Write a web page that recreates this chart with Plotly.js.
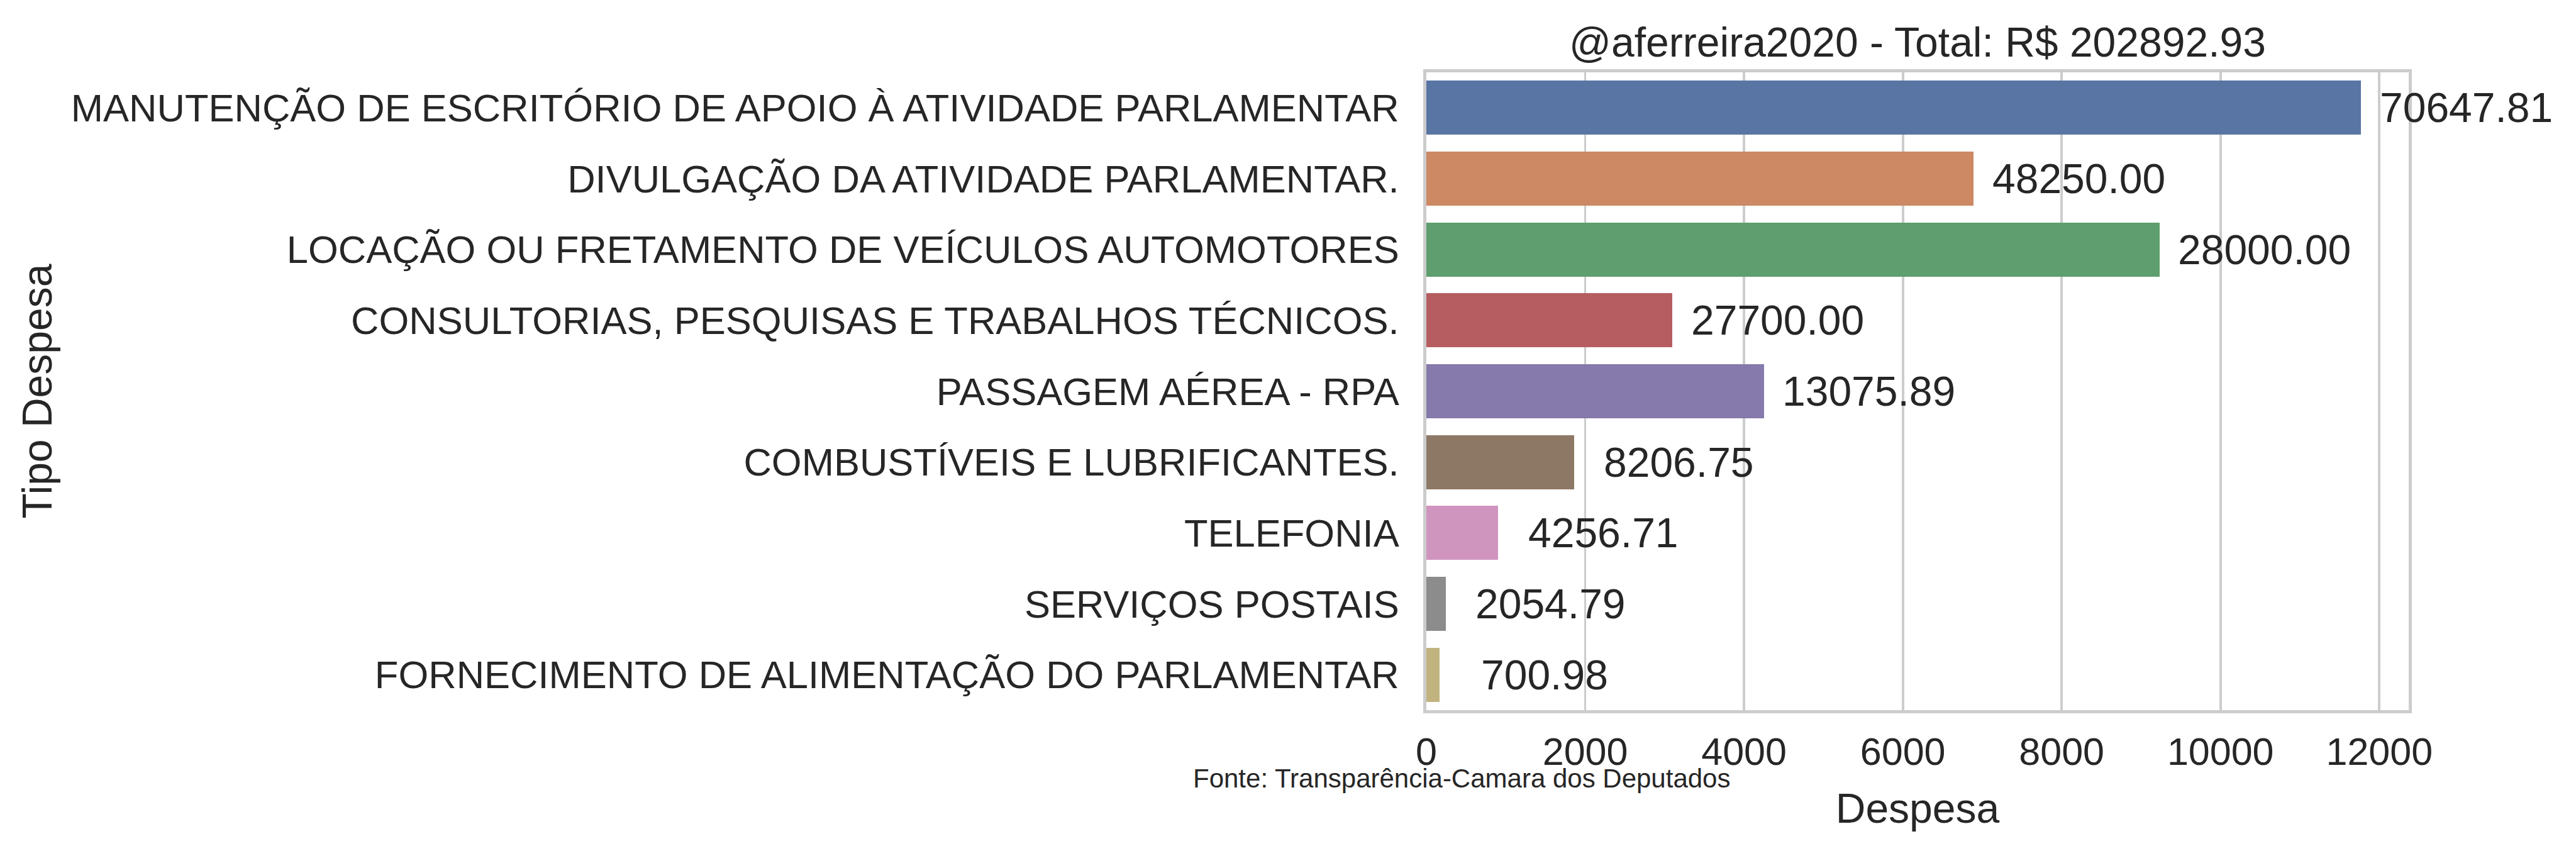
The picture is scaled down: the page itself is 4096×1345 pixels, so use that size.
<!DOCTYPE html>
<html>
<head>
<meta charset="utf-8">
<script src="https://cdn.plot.ly/plotly-3.0.1.min.js"></script>
<style>
  html, body { margin: 0; padding: 0; background: #ffffff; }
  #chart { width: 4096px; height: 1345px; }
</style>
</head>
<body>
<div id="chart"></div>
<script>
// Categories (top to bottom)
const categories = [
  "MANUTENÇÃO DE ESCRITÓRIO DE APOIO À ATIVIDADE PARLAMENTAR",
  "DIVULGAÇÃO DA ATIVIDADE PARLAMENTAR.",
  "LOCAÇÃO OU FRETAMENTO DE VEÍCULOS AUTOMOTORES",
  "CONSULTORIAS, PESQUISAS E TRABALHOS TÉCNICOS.",
  "PASSAGEM AÉREA - RPA",
  "COMBUSTÍVEIS E LUBRIFICANTES.",
  "TELEFONIA",
  "SERVIÇOS POSTAIS",
  "FORNECIMENTO DE ALIMENTAÇÃO DO PARLAMENTAR"
];
// Bar lengths (mean expense per category)
const meanValues = [11770, 6890, 9230, 3100, 4250, 1860, 905, 245, 170];
// Printed labels (total expense per category)
const totalLabels = ["70647.81", "48250.00", "28000.00", "27700.00", "13075.89", "8206.75", "4256.71", "2054.79", "700.98"];
const barColors = ["#5975a4", "#cc8963", "#5f9e6e", "#b55d60", "#857aab", "#8d7866", "#d095bf", "#8c8c8c", "#c1b37f"];
const xTicks = [0, 2000, 4000, 6000, 8000, 10000, 12000];
const chartTitle = "@aferreira2020 - Total: R$ 202892.93";
const sourceNote = "Fonte: Transparência-Camara dos Deputados";

const S = 0.839;
const FONT = "Liberation Sans, Arial, Helvetica, sans-serif";
const TXT = "#262626";
const LABEL_SHIFT = 167; // px between bar end and label centre

const trace = {
  type: "bar",
  orientation: "h",
  x: meanValues,
  y: categories,
  marker: { color: barColors, line: { width: 0 } },
  width: 0.765,
  hoverinfo: "skip"
};

const annotations = categories.map((c, i) => ({
  x: meanValues[i],
  y: c,
  xref: "x", yref: "y",
  xshift: LABEL_SHIFT,
  text: totalLabels[i],
  showarrow: false,
  xanchor: "center", yanchor: "middle",
  font: { family: FONT, size: 66, color: TXT }
}));

annotations.push({
  x: -0.239, y: -0.107,
  xref: "paper", yref: "paper",
  text: sourceNote,
  showarrow: false,
  xanchor: "left", yanchor: "middle",
  font: { family: FONT, size: 42, color: TXT }
});

const layout = {
  width: 4096, height: 1345,
  paper_bgcolor: "#ffffff", plot_bgcolor: "#ffffff",
  font: { family: FONT, color: TXT, size: 61 },
  margin: { l: 2268, r: 266, t: 115, b: 216, pad: 0 },
  showlegend: false,
  bargap: 0,
  title: {
    text: chartTitle,
    font: { family: FONT, size: 66, color: TXT },
    x: 0.5, xref: "paper", xanchor: "center",
    y: 1, yref: "paper", yanchor: "bottom",
    pad: { b: 25 }
  },
  xaxis: {
    range: [0, 12370],
    tickvals: xTicks,
    ticktext: xTicks.map(String),
    showgrid: true, gridcolor: "#cccccc", gridwidth: 3.8,
    zeroline: false,
    showline: true, linecolor: "#cccccc", linewidth: 5, mirror: true,
    ticks: "outside", ticklen: 9, tickcolor: "rgba(0,0,0,0)",
    tickfont: { family: FONT, size: 61, color: TXT },
    title: { text: "Despesa", font: { family: FONT, size: 66, color: TXT }, standoff: 35 },
    fixedrange: true
  },
  yaxis: {
    type: "category",
    range: [8.5, -0.5],
    showgrid: false, zeroline: false,
    showline: true, linecolor: "#cccccc", linewidth: 5, mirror: true,
    ticks: "outside", ticklen: 26, tickcolor: "rgba(0,0,0,0)",
    tickfont: { family: FONT, size: 61.5, color: TXT },
    title: { text: "Tipo Despesa", font: { family: FONT, size: 66, color: TXT }, standoff: 10 },
    fixedrange: true
  },
  annotations: annotations
};

Plotly.newPlot("chart", [trace], layout, { displayModeBar: false, staticPlot: true });
</script>
</body>
</html>
